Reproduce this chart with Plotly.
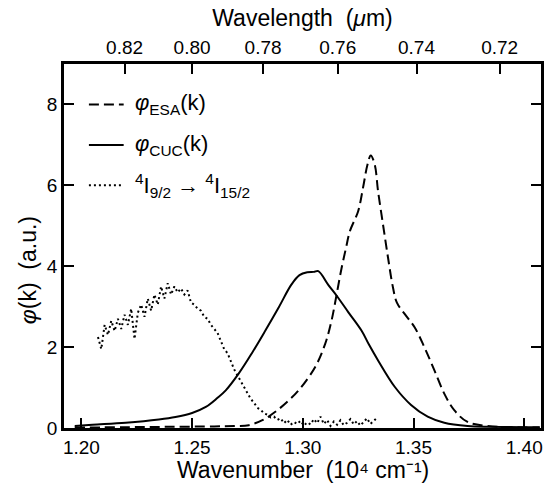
import plotly.graph_objects as go

# ---- spectra (wavenumber in 10^4 cm^-1, intensity in a.u.) ----
k_cuc = [1.197, 1.205, 1.220, 1.235, 1.2425, 1.250, 1.2562, 1.2614, 1.2652, 1.2711,
         1.2770, 1.2831, 1.2891, 1.2949, 1.2985, 1.3020, 1.3050, 1.3070, 1.3115, 1.3153,
         1.3206, 1.3265, 1.3300, 1.3340, 1.3415, 1.3489, 1.3564, 1.3639, 1.3744, 1.3850,
         1.4000, 1.4070]
phi_cuc = [0.05, 0.08, 0.13, 0.21, 0.27, 0.37, 0.52, 0.74, 0.93, 1.35,
           1.85, 2.41, 2.98, 3.55, 3.78, 3.85, 3.86, 3.88, 3.54, 3.27,
           2.86, 2.41, 2.05, 1.67, 1.02, 0.57, 0.28, 0.13, 0.05, 0.03,
           0.02, 0.02]

k_esa = [1.197, 1.220, 1.240, 1.260, 1.270, 1.2756, 1.2820, 1.2876, 1.2930, 1.2981,
         1.3056, 1.3101, 1.3130, 1.3153, 1.3175, 1.3195, 1.3213, 1.3250, 1.3272, 1.3292,
         1.3307, 1.3325, 1.3340, 1.3362, 1.3385, 1.3407, 1.3425, 1.3460, 1.3505, 1.3549,
         1.3594, 1.3639, 1.3684, 1.3744, 1.3834, 1.3950, 1.4070]
phi_esa = [0.01, 0.02, 0.03, 0.04, 0.05, 0.07, 0.20, 0.40, 0.65, 0.93,
           1.51, 2.08, 2.66, 3.31, 3.95, 4.45, 4.87, 5.36, 5.94, 6.51,
           6.74, 6.51, 5.85, 5.04, 4.21, 3.48, 3.10, 2.82, 2.49, 2.00,
           1.43, 0.85, 0.44, 0.15, 0.05, 0.02, 0.01]

k_fl = [1.2075, 1.2090, 1.2105, 1.2120, 1.2135, 1.2150, 1.2165, 1.2180, 1.2195, 1.2210,
        1.2225, 1.2240, 1.2255, 1.2270, 1.2285, 1.2300, 1.2315, 1.2330, 1.2345, 1.2360,
        1.2375, 1.2390, 1.2405, 1.2420, 1.2435, 1.2450, 1.2465, 1.2480, 1.2495, 1.2510,
        1.2525, 1.2540, 1.2555, 1.2570, 1.2585, 1.2600, 1.2615, 1.2630, 1.2645, 1.2660,
        1.2675, 1.2690, 1.2705, 1.2720, 1.2735, 1.2750, 1.2765, 1.2780, 1.2795, 1.2810,
        1.2825, 1.2840, 1.2855, 1.2870, 1.2885, 1.2900, 1.2915, 1.2930, 1.2945, 1.2960,
        1.2975, 1.2990, 1.3005, 1.3020, 1.3035, 1.3050, 1.3065, 1.3080, 1.3095, 1.3110,
        1.3125, 1.3140, 1.3155, 1.3170, 1.3185, 1.3200, 1.3215, 1.3230, 1.3245, 1.3260,
        1.3275, 1.3290, 1.3305, 1.3320, 1.3335]
phi_fl = [2.25, 1.95, 2.55, 2.30, 2.65, 2.40, 2.70, 2.45, 2.80, 2.55,
          2.95, 2.20, 2.85, 3.05, 2.75, 3.20, 2.90, 3.30, 3.05, 3.50,
          3.20, 3.58, 3.30, 3.50, 3.35, 3.45, 3.30, 3.40, 3.10, 3.05,
          2.95, 2.90, 2.75, 2.70, 2.55, 2.45, 2.35, 2.15, 1.95, 1.85,
          1.65, 1.45, 1.30, 1.15, 1.00, 0.85, 0.72, 0.62, 0.50, 0.45,
          0.36, 0.33, 0.26, 0.28, 0.20, 0.24, 0.12, 0.20, 0.08, 0.15,
          0.10, 0.18, 0.06, 0.14, 0.09, 0.22, 0.12, 0.28, 0.10, 0.20,
          0.05, 0.16, 0.08, 0.19, 0.07, 0.13, 0.22, 0.09, 0.17, 0.06,
          0.15, 0.24, 0.10, 0.18, 0.25]

# ---- axes ----
k_ticks = [1.20, 1.25, 1.30, 1.35, 1.40]
y_ticks = [0, 2, 4, 6, 8]
wl_ticks = [0.82, 0.80, 0.78, 0.76, 0.74, 0.72]
k_range = [1.19215, 1.40758]
y_range = [0, 9]

# ---- legend ----
legend_labels = ["<i>φ</i><sub>ESA</sub>(k)",
                 "<i>φ</i><sub>CUC</sub>(k)",
                 "<sup>4</sup>I<sub>9/2</sub> → <sup>4</sup>I<sub>15/2</sub>"]
legend_rows = [8, 7, 6]
legend_dash = ["10px,5px", "solid", "2px,3px"]

FONT = "Liberation Sans, Arial, Helvetica, sans-serif"
TITLE_FONT = dict(family=FONT, size=23, color="black")

fig = go.Figure()
fig.add_trace(go.Scatter(x=k_esa, y=phi_esa, mode="lines", line_shape="spline",
                         line=dict(color="black", width=2, dash="10px,5px"),
                         showlegend=False))
fig.add_trace(go.Scatter(x=k_cuc, y=phi_cuc, mode="lines", line_shape="spline",
                         line=dict(color="black", width=2),
                         showlegend=False))
# the emission spectrum sits on the wavelength axis (same span as the wavenumber axis)
fig.add_trace(go.Scatter(x=k_fl, y=phi_fl, mode="lines", xaxis="x2",
                         line=dict(color="black", width=2, dash="2px,3px"),
                         showlegend=False))

# hand-drawn legend in data coordinates
for lab, row, dash in zip(legend_labels, legend_rows, legend_dash):
    fig.add_shape(type="line", xref="x", yref="y", x0=1.2034, x1=1.2191, y0=row, y1=row,
                  line=dict(color="black", width=2, dash=dash))
    fig.add_annotation(x=1.2235, y=row, xref="x", yref="y", text=lab, showarrow=False,
                       xanchor="left", yanchor="middle",
                       font=dict(family=FONT, size=22, color="black"))

# y-axis title, centred level with the "4" tick
fig.add_annotation(text="<i>φ</i>(k)  (a.u.)", textangle=-90, showarrow=False,
                   xref="paper", x=0, xanchor="center", xshift=-36,
                   yref="y", y=3.9, yanchor="middle", font=TITLE_FONT)
# bottom axis title, set just below the tick labels
fig.add_annotation(text="Wavenumber  (10⁴ cm⁻¹)", showarrow=False,
                   xref="paper", x=0.5, xanchor="center",
                   yref="paper", y=0, yanchor="bottom", yshift=-57, font=TITLE_FONT)

axis_common = dict(showline=True, linecolor="black", linewidth=2.5, ticks="inside",
                   ticklen=10, tickwidth=2, tickcolor="black", showgrid=False,
                   zeroline=False, tickfont=dict(family=FONT, size=19, color="black"))

fig.update_layout(
    width=548, height=485,
    margin=dict(l=64, r=4, t=64, b=57),
    paper_bgcolor="white", plot_bgcolor="white",
    font=dict(family=FONT, color="black"),
    xaxis=dict(range=k_range, tickvals=k_ticks, ticktext=[f"{v:.2f}" for v in k_ticks],
               mirror=True, **axis_common),
    xaxis2=dict(range=k_range, overlaying="x", side="top", anchor="y",
                tickvals=[1 / w for w in wl_ticks], ticktext=[f"{w:.2f}" for w in wl_ticks],
                title=dict(text="Wavelength  (<i>μ</i>m)", font=TITLE_FONT, standoff=4),
                **axis_common),
    yaxis=dict(range=y_range, tickvals=y_ticks, mirror="ticks", **axis_common),
)

fig.write_html("out.html")
